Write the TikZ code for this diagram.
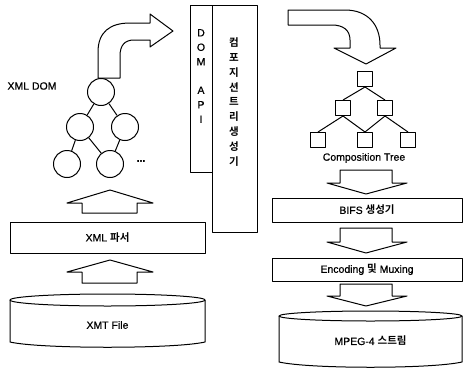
\documentclass[tikz,border=0pt]{standalone}
\usepackage{fontspec}
\setmainfont{Liberation Sans}[FakeBold=0.6]
\newfontfamily\kr{Noto Sans CJK KR}[BoldFont={Noto Sans CJK KR Bold}]
\tikzset{
  line/.style={draw=black, line width=1pt, line join=round},
  lbl/.style={font=\fontsize{10.5}{12}\selectfont, inner sep=0pt},
  circ/.style={line, circle, minimum size=27pt, inner sep=0pt},
  sq/.style={line, rectangle, minimum size=15pt, inner sep=0pt},
  procbox/.style={line, rectangle, inner sep=0pt},
}
\begin{document}
\begin{tikzpicture}[x=1pt, y=-1pt]
\useasboundingbox (0,0) rectangle (465,372);
% side boxes
\draw[line] (190,5) rectangle (212,172);
\draw[line] (212,5) rectangle (257,232);
\node[lbl, align=center, font=\fontsize{10.5}{14.5}\selectfont] (domapi) at (201,76) {D\\O\\M\\[14pt]A\\P\\I};
\node[lbl, align=center, font=\fontsize{10.5}{14.9}\selectfont\kr\bfseries] (cgen) at (234,102) {컴\\포\\지\\션\\트\\리\\생\\성\\기};

% top-left curved arrow
\draw[line] (98,78) -- (98,52) .. controls (98,32) and (110,23) .. (130,23) -- (150,23) -- (150,14) -- (173,31) -- (150,47) -- (150,40) -- (134,40) .. controls (125,40) and (120,45) .. (120,56) -- (120,78) -- cycle;

% XML DOM tree
\node[lbl] (xmldom) at (32,86) {XML DOM};
\node[circ] (c1) at (101,92) {};
\node[circ] (c2) at (80,127) {};
\node[circ] (c3) at (125,127) {};
\node[circ] (c4) at (67,164) {};
\node[circ] (c5) at (110,164) {};
\node[lbl] (dots) at (141,161) {\textbf{...}};
\draw[line] (c1) -- (c2);
\draw[line] (c1) -- (c3);
\draw[line] (c2) -- (c4);
\draw[line] (c2) -- (c5);
\draw[line] (c3) -- (c5);

% left up arrows
\draw[line] (82,213) -- (82,203) -- (67,203) -- (110,190) -- (153,203) -- (137,203) -- (137,213) -- cycle;
\node[procbox, minimum width=195pt, minimum height=31pt] (parser) at (107.5,237.5) {};
\node[lbl] (parsert) at (parser) {XML {\kr\bfseries 파서}};
\draw[line] (82,283) -- (82,272) -- (67,272) -- (110,260) -- (153,272) -- (137,272) -- (137,283) -- cycle;

% XMT file cylinder
\draw[line] (10,300) -- (10,342) .. controls (40,349) and (175,349) .. (205,342) -- (205,300);
\draw[line] (107.5,300) ellipse [x radius=97.5, y radius=6];
\node[lbl] (xmt) at (107.5,325) {XMT File};

% right curved arrow
\draw[line] (288,10) -- (345,10) .. controls (368,10) and (380,25) .. (380,45) -- (380,48) -- (396,48) -- (366,64) -- (334,48) -- (350,48) -- (350,40) .. controls (350,30) and (343,25) .. (332,25) -- (288,25) -- cycle;

% composition tree
\node[sq] (s1) at (365,79) {};
\node[sq] (s2) at (343,108) {};
\node[sq] (s3) at (385,108) {};
\node[sq] (s4) at (318,140) {};
\node[sq] (s5) at (365,140) {};
\node[sq] (s6) at (408,140) {};
\draw[line] (s1.south) -- (s2.north);
\draw[line] (s1.south) -- (s3.north);
\draw[line] (s2.south) -- (s4.north);
\draw[line] (s2.south) -- (s5.north);
\draw[line] (s3.south) -- (s5.north);
\draw[line] (s3.south) -- (s6.north);
\node[lbl] (ctree) at (364,158) {Composition Tree};

% down arrows
\draw[line] (340,170) -- (392,170) -- (392,183) -- (407,183) -- (366,194) -- (327,183) -- (340,183) -- cycle;
\node[procbox, minimum width=190pt, minimum height=24pt] (bifs) at (367,210) {};
\node[lbl] (bifst) at (bifs) {BIFS {\kr\bfseries 생성기}};
\draw[line] (340,228) -- (392,228) -- (392,242) -- (407,242) -- (366,253) -- (327,242) -- (340,242) -- cycle;
\node[procbox, minimum width=190pt, minimum height=23pt] (enc) at (367,269.5) {};
\node[lbl] (enct) at (enc) {Encoding {\kr\bfseries 및} Muxing};
\draw[line] (340,284) -- (392,284) -- (392,296) -- (407,296) -- (366,306) -- (327,296) -- (340,296) -- cycle;

% MPEG-4 cylinder
\draw[line] (279,316) -- (279,362) .. controls (310,369) and (431,369) .. (462,362) -- (462,316);
\draw[line] (370.5,316) ellipse [x radius=91.5, y radius=5];
\node[lbl] (mpeg) at (370.5,341) {MPEG-4 {\kr\bfseries 스트림}};
\end{tikzpicture}
\end{document}
